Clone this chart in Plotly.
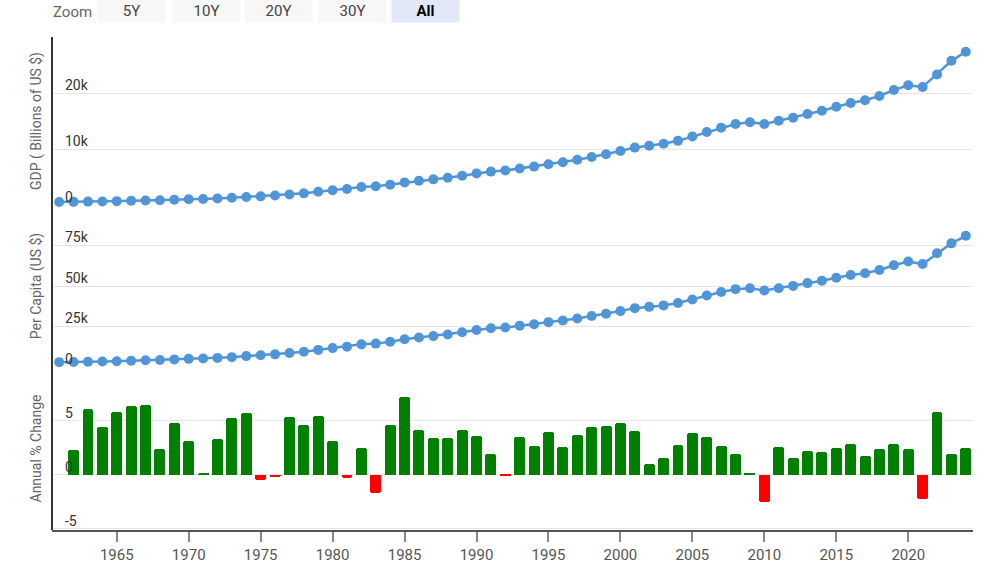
import plotly.graph_objects as go

# ---------------- data ----------------
line_years = list(range(1961, 2025))
gdp_billions = [543, 563, 605, 638, 686, 744, 815, 862, 943, 1019,
                1073, 1165, 1280, 1425, 1545, 1685, 1873, 2082, 2352, 2627,
                2857, 3207, 3343, 3634, 4037, 4339, 4580, 4855, 5236, 5642,
                5963, 6158, 6520, 6859, 7287, 7640, 8073, 8578, 9063, 9631,
                10251, 10582, 10929, 11457, 12217, 13039, 13816, 14474, 14770, 14478,
                15049, 15600, 16254, 16843, 17551, 18206, 18695, 19477, 20533, 21381,
                21060, 23315, 25744, 27361]
per_capita = [3007, 3067, 3244, 3375, 3574, 3828, 4146, 4336, 4696, 5032,
              5234, 5609, 6094, 6726, 7226, 7801, 8592, 9453, 10565, 11674,
              12575, 13976, 14434, 15544, 17121, 18237, 19071, 20039, 21417, 22857,
              23889, 24342, 25419, 26387, 27695, 28691, 29968, 31459, 32854, 34515,
              36330, 37134, 38023, 39496, 41713, 44115, 46299, 48050, 48570, 47195,
              48651, 50066, 51784, 53291, 55124, 56763, 57867, 59915, 62805, 65095,
              63528, 70219, 76330, 81000]

bar_years = list(range(1962, 2025))
annual_change = [2.3, 6.1, 4.4, 5.8, 6.4, 6.5, 2.4, 4.8, 3.1, 0.2,
                 3.3, 5.3, 5.7, -0.5, -0.2, 5.4, 4.6, 5.5, 3.1, -0.3,
                 2.5, -1.7, 4.6, 7.2, 4.2, 3.4, 3.4, 4.2, 3.6, 1.9,
                 -0.1, 3.5, 2.7, 4.0, 2.6, 3.7, 4.4, 4.5, 4.8, 4.1,
                 1.0, 1.6, 2.8, 3.9, 3.5, 2.7, 1.9, 0.1, -2.5, 2.6,
                 1.6, 2.2, 2.1, 2.5, 2.9, 1.8, 2.4, 2.9, 2.4, -2.2,
                 5.8, 1.9, 2.5]

x_tick_years = [1965, 1970, 1975, 1980, 1985, 1990, 1995, 2000, 2005, 2010, 2015, 2020]
zoom_buttons = ["5Y", "10Y", "20Y", "30Y", "All"]

# ---------------- styling ----------------
LINE_COLOR = "#5095d8"
GRID = "#e6e6e6"
FONT = "Roboto"
bar_colors = ["#008000" if v >= 0 else "#ff0000" for v in annual_change]

fig = go.Figure()

fig.add_trace(go.Scatter(
    x=line_years, y=gdp_billions, mode="lines+markers",
    line=dict(color=LINE_COLOR, width=2.5),
    marker=dict(color=LINE_COLOR, size=10),
    cliponaxis=False, xaxis="x", yaxis="y", showlegend=False))

fig.add_trace(go.Scatter(
    x=line_years, y=per_capita, mode="lines+markers",
    line=dict(color=LINE_COLOR, width=2.5),
    marker=dict(color=LINE_COLOR, size=10),
    cliponaxis=False, xaxis="x", yaxis="y2", showlegend=False))

fig.add_trace(go.Bar(
    x=bar_years, y=annual_change, width=0.76,
    marker=dict(color=bar_colors, line=dict(width=0), cornerradius=3),
    xaxis="x", yaxis="y3", showlegend=False))

# plot area geometry: x 52..973, y 37..530
H_PLOT = 493.0
def py(p):
    return (530 - p) / H_PLOT

def pxx(p):
    return (p - 52) / 921.0

common_y = dict(
    showgrid=True, gridcolor=GRID, gridwidth=1, zeroline=False,
    showline=False, ticks="", ticklabelposition="inside",
    ticklabelstandoff=10, ticklabelshift=-8, automargin=False,
    tickfont=dict(family=FONT, size=14, color="#333333"),
    title_font=dict(family=FONT, size=14, color="#666666"),
    title_standoff=20,
)

fig.update_layout(
    width=1000, height=577,
    margin=dict(l=52, r=27, t=37, b=47),
    paper_bgcolor="white", plot_bgcolor="white",
    font=dict(family=FONT),
    bargap=0,
    xaxis=dict(
        range=[1960.5, 2024.5], tickvals=x_tick_years,
        showgrid=False, zeroline=False, automargin=False,
        showline=True, linecolor="#555555", linewidth=1.5,
        ticks="outside", ticklen=10, tickcolor="#888888", tickwidth=1.5,
        tickfont=dict(family=FONT, size=15, color="#555555"),
        anchor="y3",
    ),
    yaxis=dict(domain=[py(205), 1.0], range=[0, 30000],
               tickvals=[0, 10000, 20000, 30000], ticktext=["0", "10k", "20k", ""],
               title_text="GDP ( Billions of US $)", anchor="x", **common_y),
    yaxis2=dict(domain=[py(367), py(205)], range=[0, 100000],
                tickvals=[0, 25000, 50000, 75000, 100000], ticktext=["0", "25k", "50k", "75k", ""],
                title_text="Per Capita (US $)", anchor="x", **common_y),
    yaxis3=dict(domain=[0, py(367)], range=[-5.1, 10],
                tickvals=[-5, 0, 5, 10], ticktext=["-5", "0", "5", ""],
                title_text="Annual % Change", anchor="x", **common_y),
)

# vertical axis line spanning all panes
fig.add_shape(type="line", xref="paper", yref="paper", x0=0, x1=0, y0=0, y1=1,
              line=dict(color="#333333", width=2))

# zoom selector (text annotations)
fig.add_annotation(text="Zoom", xref="paper", yref="paper", x=pxx(72), y=py(12),
                   xanchor="center", yanchor="middle", showarrow=False,
                   font=dict(family=FONT, size=15, color="#666666"))
centers = [131, 206, 278, 352, 425]
for label, c in zip(zoom_buttons, centers):
    active = label == "All"
    fig.add_annotation(text=("<b>%s</b>" % label) if active else label,
                       xref="paper", yref="paper", x=pxx(c), y=py(11),
                       xanchor="center", yanchor="middle", showarrow=False,
                       width=67, height=22, borderpad=0,
                       bgcolor="#e2e8f8" if active else "#f7f7f7",
                       font=dict(family=FONT, size=15, color="#000000" if active else "#444444"))

fig.write_html("out.html", config={"displayModeBar": False},
               post_script="document.body.style.margin='0';")
